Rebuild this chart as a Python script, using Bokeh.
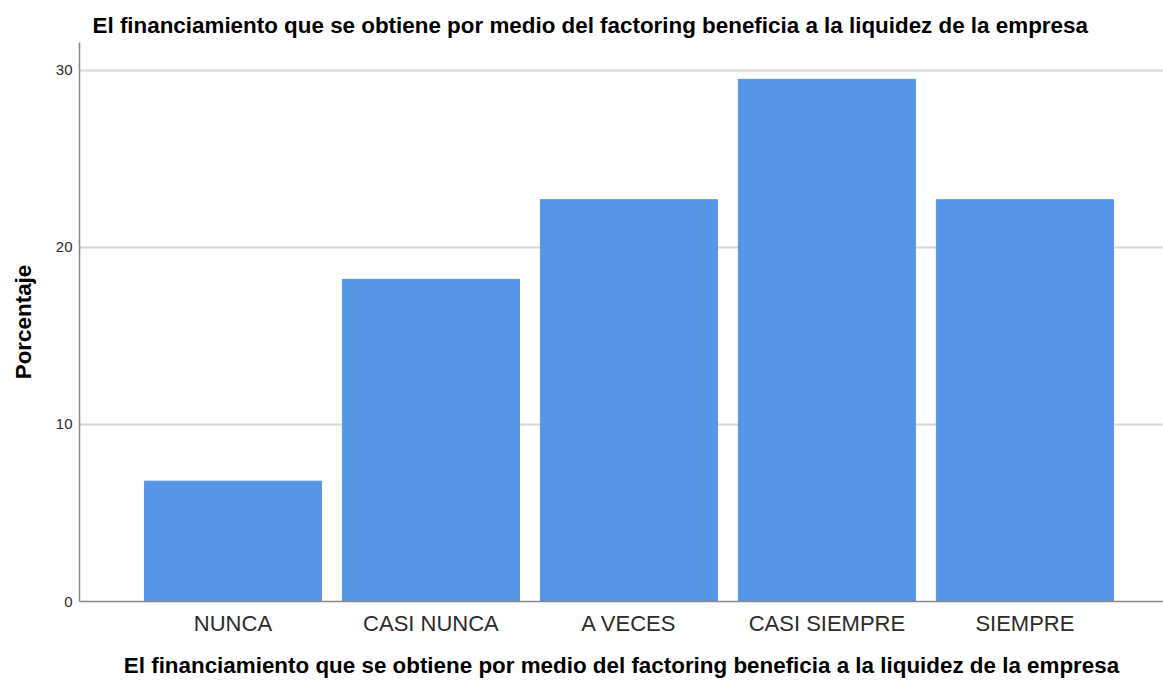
from bokeh.plotting import figure
from bokeh.models import FixedTicker, Range1d
from bokeh.embed import file_html
from bokeh.resources import INLINE

categories = ["NUNCA", "CASI NUNCA", "A VECES", "CASI SIEMPRE", "SIEMPRE"]
percentages = [6.8, 18.2, 22.7, 29.5, 22.7]
y_ticks = [0, 10, 20, 30]
title_text = "El financiamiento que se obtiene por medio del factoring beneficia a la liquidez de la empresa"

xs = list(range(len(categories)))

p = figure(width=1163, height=680, output_backend="svg", toolbar_location=None,
           x_range=Range1d(-0.775, len(categories) - 1 + 0.70),
           y_range=Range1d(0, 31.58),
           min_border_left=79, min_border_bottom=77, min_border_top=42, min_border_right=0)

p.vbar(x=xs, top=percentages, width=0.894, fill_color="#5596E6", line_color="#5596E6")

p.title.text = title_text
p.title.text_font = "Liberation Sans"
p.title.text_font_size = "22.4px"
p.title.text_font_style = "bold"
p.title.text_color = "#000000"
p.title.align = "left"
p.title.offset = 13
p.title.standoff = 10

p.outline_line_color = None
p.xgrid.grid_line_color = None
p.ygrid.grid_line_color = "#D6D6D6"
p.ygrid.grid_line_width = 2

p.xaxis.ticker = FixedTicker(ticks=xs)
p.xaxis.major_label_overrides = {i: c for i, c in enumerate(categories)}
p.yaxis.ticker = FixedTicker(ticks=y_ticks)

for ax in (p.xaxis, p.yaxis):
    ax.major_tick_line_color = None
    ax.minor_tick_line_color = None
    ax.major_tick_out = 0
    ax.major_tick_in = 0
    ax.axis_line_color = "#888888"
    ax.axis_line_width = 1.5
    ax.major_label_text_font = "Liberation Sans"
    ax.axis_label_text_font = "Liberation Sans"
    ax.axis_label_text_font_style = "bold"
    ax.axis_label_text_color = "#000000"

p.xaxis.axis_label = title_text
p.xaxis.axis_label_text_font_size = "22.4px"
p.xaxis.major_label_text_font_size = "22px"
p.xaxis.major_label_text_color = "#2b2b2b"
p.xaxis.major_label_standoff = 9
p.xaxis.axis_label_standoff = 14

p.yaxis.axis_label = "Porcentaje"
p.yaxis.axis_label_text_font_size = "22.4px"
p.yaxis.major_label_text_font_size = "15px"
p.yaxis.major_label_text_color = "#2b2b2b"
p.yaxis.major_label_standoff = 7
p.yaxis.axis_label_standoff = 17

open("out.html", "w").write(file_html(p, INLINE))
